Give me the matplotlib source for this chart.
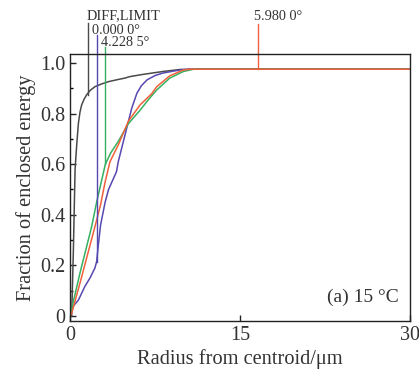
import matplotlib
matplotlib.use("Agg")
import matplotlib.pyplot as plt

plt.rcParams['font.family'] = ['Liberation Serif', 'DejaVu Serif']

# Data
r_diff = [0, 0.15, 0.3, 0.45, 0.6, 0.74, 0.88, 1.03, 1.25, 1.47, 1.8, 2.2, 2.8, 3.4, 4.1, 4.85, 5.3, 6.5, 8.2, 9.7, 11.0, 30]
e_diff = [0, 0.0, 0.26, 0.58, 0.68, 0.76, 0.805, 0.834, 0.857, 0.874, 0.892, 0.906, 0.917, 0.926, 0.933, 0.94, 0.946, 0.955, 0.966, 0.974, 0.975, 0.975]

r_0 = [0, 0.3, 0.74, 1.3, 1.76, 2.2, 2.35, 2.5, 2.7, 3.1, 3.4, 3.8, 4.1, 4.26, 4.85, 5.44, 5.9, 6.3, 6.8, 7.5, 8.2, 9.7, 10.5, 30]
e_0 = [0, 0.04, 0.063, 0.116, 0.15, 0.19, 0.215, 0.28, 0.36, 0.45, 0.5, 0.54, 0.57, 0.61, 0.715, 0.82, 0.88, 0.91, 0.933, 0.95, 0.96, 0.972, 0.975, 0.975]

r_42 = [0, 0.88, 1.91, 2.35, 3.12, 3.6, 4.26, 5.15, 6.2, 6.9, 7.65, 8.8, 10.0, 10.9, 30]
e_42 = [0, 0.17, 0.353, 0.45, 0.60, 0.645, 0.69, 0.76, 0.814, 0.854, 0.893, 0.94, 0.966, 0.975, 0.975]

r_59 = [0, 0.15, 1.0, 2.2, 2.7, 3.1, 3.53, 4.26, 5.15, 6.2, 7.2, 7.65, 8.8, 10.0, 10.6, 30]
e_59 = [0, 0.01, 0.15, 0.353, 0.44, 0.53, 0.61, 0.676, 0.77, 0.835, 0.878, 0.906, 0.949, 0.972, 0.975, 0.975]

labels = ["DIFF,LIMIT", "0.000 0°", "4.228 5°", "5.980 0°"]
colors = ["#4a4a4a", "#5548b0", "#35b060", "#f0603a"]
marker_x = [1.56, 2.35, 3.12, 16.6]
marker_y0 = [0.875, 0.215, 0.60, 0.975]
marker_y1 = [1.157, 1.11, 1.062, 1.154]
label_x = [1.45, 1.95, 2.75, 16.25]
label_y = [1.186, 1.128, 1.08, 1.183]

fig = plt.figure(figsize=(4.19, 3.70), dpi=100)
ax = fig.add_axes([0.167, 0.132, 0.812, 0.722])

series = [(r_diff, e_diff), (r_0, e_0), (r_42, e_42), (r_59, e_59)]
for (x, y), c in zip(series, colors):
    ax.plot(x, y, color=c, lw=1.1)

for mx, y0, y1, lx, ly, lab, c in zip(marker_x, marker_y0, marker_y1, label_x, label_y, labels, colors):
    ax.plot([mx, mx], [y0, y1], color=c, lw=1.0, clip_on=False)
    ax.text(lx, ly, lab, fontsize=10.3, color="#333333", va="center", ha="left")

ax.set_xlim(0, 30)
ax.set_ylim(-0.02, 1.035)
ax.set_xticks([0, 15, 30])
ax.set_yticks([0, 0.2, 0.4, 0.6, 0.8, 1.0])
ax.set_yticklabels(["0", "0.2", "0.4", "0.6", "0.8", "1.0"])
ax.set_yticks([0.1, 0.3, 0.5, 0.7, 0.9], minor=True)
ax.tick_params(axis='both', which='major', direction='in', length=4, labelsize=14.5, width=1, colors='#222222', labelcolor='#333333')
ax.tick_params(axis='y', which='minor', direction='in', length=2.5, width=1)
for s in ax.spines.values():
    s.set_linewidth(1.0)
    s.set_color('#222222')

ax.set_xlabel("Radius from centroid/μm", fontsize=14.7, color="#333333", labelpad=3)
ax.set_ylabel("Fraction of enclosed energy", fontsize=14.7, color="#333333", labelpad=3)
ax.text(0.965, 0.09, "(a) 15 °C", transform=ax.transAxes, ha="right", va="center", fontsize=14, color="#333333")

fig.savefig("out.png", dpi=100)
